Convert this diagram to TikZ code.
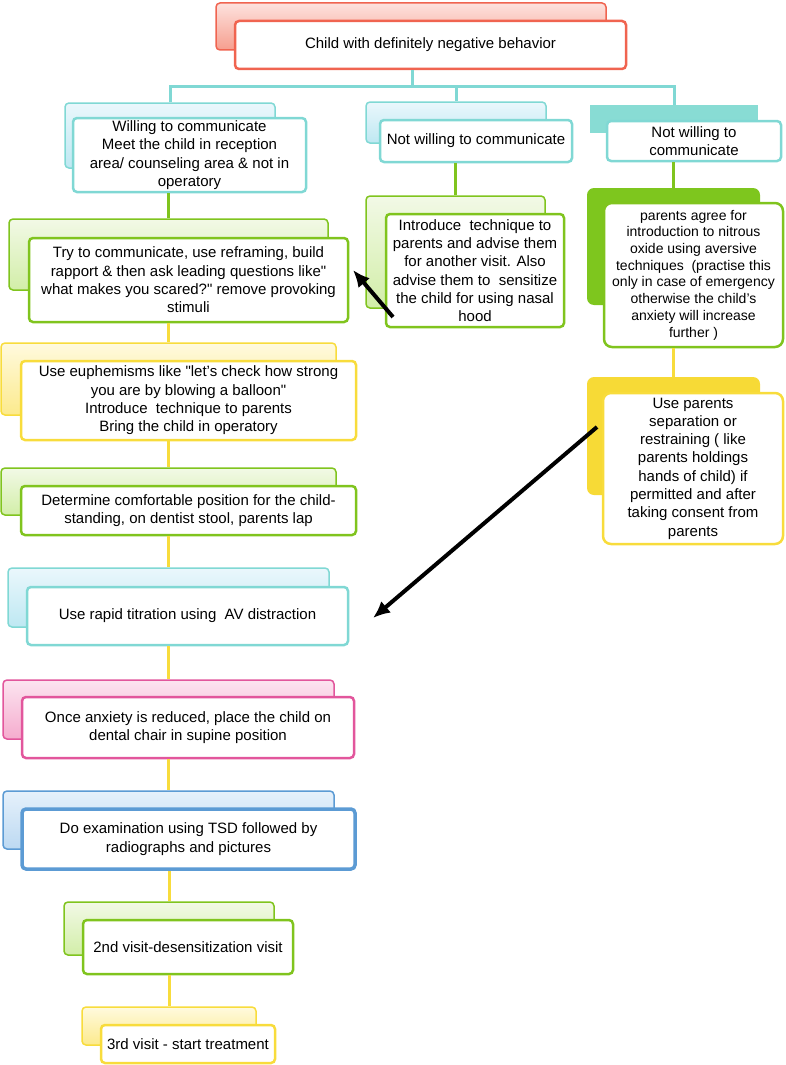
\documentclass[tikz,border=0pt]{standalone}
\usepackage{fontspec}
\setmainfont{Liberation Sans}
\usepackage{tikz}
\usetikzlibrary{arrows.meta,calc}
\tikzset{>={Latex[length=17pt,width=15pt]}}

\definecolor{lnred}{RGB}{240,100,80}
\definecolor{tpred}{RGB}{253,226,222}
\definecolor{btred}{RGB}{246,158,142}
\definecolor{lnteal}{RGB}{128,216,212}
\definecolor{tpteal}{RGB}{234,247,252}
\definecolor{btteal}{RGB}{190,232,242}
\definecolor{lngreen}{RGB}{128,196,30}
\definecolor{tpgreen}{RGB}{242,249,230}
\definecolor{btgreen}{RGB}{210,238,168}
\definecolor{lnyellow}{RGB}{248,220,60}
\definecolor{tpyellow}{RGB}{255,250,222}
\definecolor{btyellow}{RGB}{252,234,140}
\definecolor{lnpink}{RGB}{226,86,156}
\definecolor{tppink}{RGB}{252,228,240}
\definecolor{btpink}{RGB}{245,172,206}
\definecolor{lnblue}{RGB}{92,155,212}
\definecolor{tpblue}{RGB}{230,241,251}
\definecolor{btblue}{RGB}{188,217,242}
\definecolor{solteal}{RGB}{136,220,212}
\definecolor{solgreen}{RGB}{126,198,30}
\definecolor{solyellow}{RGB}{247,218,54}

\newcommand{\boxfont}{\fontsize{15}{18.3}\selectfont}
\newcommand{\smallboxfont}{\fontsize{14}{16.7}\selectfont}

\tikzset{
  backbox/.style={draw=ln#1, line width=1.5pt, rounded corners=4pt,
    top color=tp#1, bottom color=bt#1, inner sep=0pt},
  solidbox/.style={fill=#1, draw=none, inner sep=0pt},
  frontbox/.style={draw=ln#1, fill=white, line width=2.5pt, rounded corners=4pt,
    align=center, inner sep=0pt, font=\boxfont},
  link/.style={draw=ln#1, line width=3pt},
}

\begin{document}
\begin{tikzpicture}[x=1pt,y=-1pt]
\useasboundingbox (0,0) rectangle (785,1065);

% top
\node [backbox=red, minimum width=390pt, minimum height=47pt] (topb) at (411,26.5) {};
\node [frontbox=red, minimum width=391pt, minimum height=48pt] (top) at (430.5,45) {Child with definitely negative behavior};

% first row
\node [backbox=teal, minimum width=210pt, minimum height=65pt] (willingb) at (170,135.5) {};
\node [frontbox=teal, minimum width=233pt, minimum height=74pt] (willing) at (189.5,155)
  {Willing to communicate\\Meet the child in reception\\area/ counseling area \& not in\\operatory};
\node [backbox=teal, minimum width=180pt, minimum height=41pt] (notwillAb) at (456,122.5) {};
\node [frontbox=teal, minimum width=192pt, minimum height=42pt] (notwillA) at (476,141) {Not willing to communicate};
\node [solidbox=solteal, minimum width=168pt, minimum height=28pt] (notwillBb) at (674,119) {};
\node [frontbox=teal, minimum width=174pt, minimum height=40pt] (notwillB) at (694,141) {Not willing to\\communicate};

% second row
\node [backbox=green, minimum width=319pt, minimum height=71pt] (tryb) at (168.5,254.5) {};
\node [frontbox=green, minimum width=319pt, minimum height=84pt] (try) at (188.5,280)
  {Try to communicate, use reframing, build\\rapport \& then ask leading questions like\textquotedbl\\what makes you scared?\textquotedbl\ remove provoking\\stimuli};
\node [backbox=green, minimum width=179pt, minimum height=112pt] (introb) at (455.5,252) {};
\node [frontbox=green, minimum width=178pt, minimum height=113pt] (intro) at (475,270.5)
  {Introduce\ \ technique to\\parents and advise them\\for another visit. Also\\advise them to\ \ sensitize\\the child for using nasal\\hood};
\node [solidbox=solgreen, rounded corners=7pt, minimum width=173pt, minimum height=117pt] (agreeb) at (673.5,246.5) {};
\node [frontbox=green, rounded corners=8pt, font=\smallboxfont, minimum width=179pt, minimum height=144pt] (agree) at (693.5,275)
  {parents agree for\\introduction to nitrous\\oxide using aversive\\techniques\ \ (practise this\\only in case of emergency\\otherwise the child's\\anxiety will increase\\further )};

% left column
\node [backbox=yellow, minimum width=335pt, minimum height=72pt] (euphb) at (168.5,379) {};
\node [frontbox=yellow, minimum width=335pt, minimum height=79pt] (euph) at (188.5,400.5)
  {Use euphemisms like \textquotedbl let's check how strong\\you are by blowing a balloon\textquotedbl\\Introduce\ \ technique to parents\\Bring the child in operatory};
\node [solidbox=solyellow, rounded corners=7pt, minimum width=173pt, minimum height=118pt] (sepb) at (673.5,436) {};
\node [frontbox=yellow, rounded corners=8pt, minimum width=180pt, minimum height=151pt] (sep) at (693,468.5)
  {Use parents\\separation or\\restraining ( like\\parents holdings\\hands of child) if\\permitted and after\\taking consent from\\parents};
\node [backbox=green, minimum width=335pt, minimum height=47pt] (determineb) at (168.5,491.5) {};
\node [frontbox=green, minimum width=335pt, minimum height=49pt] (determine) at (188.5,510.5)
  {Determine comfortable position for the child-\\standing, on dentist stool, parents lap};
\node [backbox=teal, minimum width=321pt, minimum height=59pt] (rapidb) at (168.5,597.5) {};
\node [frontbox=teal, minimum width=321pt, minimum height=58pt] (rapid) at (187.5,616) {Use rapid titration using\ \ AV distraction};
\node [backbox=pink, minimum width=331pt, minimum height=59pt] (onceb) at (168.5,709.5) {};
\node [frontbox=pink, minimum width=332pt, minimum height=61pt] (once) at (188,727.5)
  {Once anxiety is reduced, place the child on\\dental chair in supine position};
\node [backbox=blue, minimum width=331pt, minimum height=58pt] (examb) at (168.5,820) {};
\node [frontbox=blue, line width=3.5pt, minimum width=333pt, minimum height=60pt] (exam) at (188.5,839)
  {Do examination using TSD followed by\\radiographs and pictures};
\node [backbox=green, minimum width=210pt, minimum height=53pt] (visittwob) at (169,928.5) {};
\node [frontbox=green, minimum width=210pt, minimum height=54pt] (visittwo) at (188,947) {2nd visit-desensitization visit};
\node [backbox=yellow, minimum width=174pt, minimum height=38pt] (visitthreeb) at (169,1026) {};
\node [frontbox=yellow, minimum width=174pt, minimum height=38pt] (visitthree) at (188,1044) {3rd visit - start treatment};

% connectors
\coordinate (split) at (412,86);
\draw[link=teal] (split |- top.south) -- (split);
\draw[link=teal] (willingb.north) |- (split) -| (notwillBb.north);
\draw[link=teal] (split) -| (notwillAb.north);
\draw[link=green] (willing.south -| tryb.north) -- (tryb.north);
\draw[link=green] (notwillA.south -| introb.north) -- (introb.north);
\draw[link=green] (notwillB.south -| agreeb.north) -- (agreeb.north);
\draw[link=yellow] (try.south -| euphb.north) -- (euphb.north);
\draw[link=yellow] (agree.south -| sepb.north) -- (sepb.north);
\draw[link=yellow] (euph.south -| determineb.north) -- (determineb.north);
\draw[link=yellow] (determine.south -| rapidb.north) -- (rapidb.north);
\draw[link=yellow] (rapid.south -| onceb.north) -- (onceb.north);
\draw[link=yellow] (once.south -| examb.north) -- (examb.north);
\draw[link=yellow] (exam.south -| visittwob.north) -- (visittwob.north);
\draw[link=yellow] (visittwo.south -| visitthreeb.north) -- (visitthreeb.north);

% black arrows
\coordinate (introtail) at (393,317);
\coordinate (tryhead) at (353,270);
\coordinate (septail) at (597,427);
\coordinate (rapidhead) at (373,618);
\draw[->, line width=4pt] (introtail) -- (tryhead);
\draw[->, line width=4pt] (septail) -- (rapidhead);

\end{tikzpicture}
\end{document}
